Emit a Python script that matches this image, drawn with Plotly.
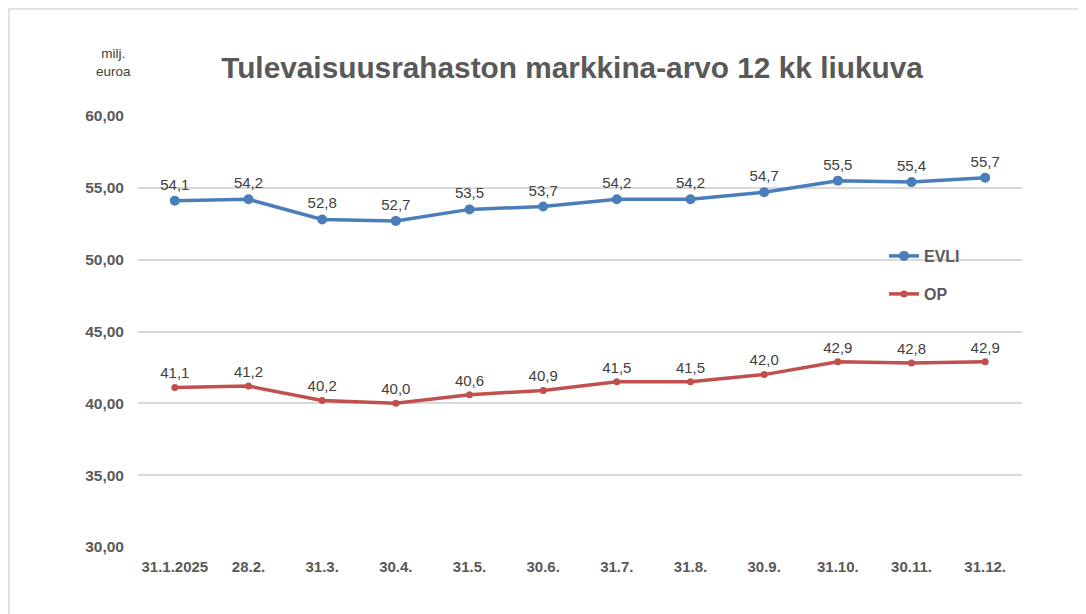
import plotly.graph_objects as go

categories = ["31.1.2025", "28.2.", "31.3.", "30.4.", "31.5.", "30.6.", "31.7.",
              "31.8.", "30.9.", "31.10.", "30.11.", "31.12."]
evli = [54.1, 54.2, 52.8, 52.7, 53.5, 53.7, 54.2, 54.2, 54.7, 55.5, 55.4, 55.7]
op = [41.1, 41.2, 40.2, 40.0, 40.6, 40.9, 41.5, 41.5, 42.0, 42.9, 42.8, 42.9]
y_ticks = [30, 35, 40, 45, 50, 55, 60]

OFF = 8  # page body margin
W, H = 1086 - OFF, 614 - OFF
# target pixel positions in the window
L_PX, R_PX, T_PX, B_PX = 138, 1022, 116, 547
ML, MR, MT, MB = L_PX - OFF, 1086 - R_PX, T_PX - OFF, 614 - B_PX
PW, PH = W - ML - MR, H - MT - MB


def px_x(x):
    return (x - L_PX) / PW


def px_y(y):
    return (B_PX - y) / PH


FONT = "Liberation Sans, Arial, sans-serif"
GRAY = "#595959"

fig = go.Figure()
fig.add_trace(go.Scatter(
    x=categories, y=evli, name="EVLI", mode="lines+markers+text",
    line=dict(color="#4A7EBB", width=3.5), marker=dict(size=10, color="#4A7EBB"),
    text=[f"{v:.1f}".replace(".", ",") for v in evli], textposition="top center",
    textfont=dict(family=FONT, size=15, color="#404040"), legend="legend",
))
fig.add_trace(go.Scatter(
    x=categories, y=op, name="OP", mode="lines+markers+text",
    line=dict(color="#C0504D", width=3.5), marker=dict(size=7, color="#C0504D"),
    text=[f"{v:.1f}".replace(".", ",") for v in op], textposition="top center",
    textfont=dict(family=FONT, size=15, color="#404040"), legend="legend2",
))

legend_common = dict(
    xanchor="left", yanchor="middle", bgcolor="rgba(0,0,0,0)",
    font=dict(family=FONT, size=16, color=GRAY, weight="bold"),
    itemwidth=30,
)

fig.update_layout(
    width=W, height=H,
    margin=dict(l=ML, r=MR, t=MT, b=MB),
    paper_bgcolor="white", plot_bgcolor="white",
    separators=",.",
    title=dict(
        text="<b>Tulevaisuusrahaston markkina-arvo 12 kk liukuva</b>",
        x=px_x(572), xref="paper", xanchor="center",
        y=1 - (68 - OFF) / H, yref="container", yanchor="middle",
        font=dict(family=FONT, size=29.8, color=GRAY),
    ),
    xaxis=dict(
        type="category", range=[-0.5, 11.5], showgrid=False, zeroline=False,
        showline=False, ticks="", ticklabelstandoff=9,
        tickfont=dict(family=FONT, size=15, color=GRAY, weight="bold"),
    ),
    yaxis=dict(
        range=[30, 60], tickvals=y_ticks, tickformat=".2f",
        showgrid=True, gridcolor="#D9D9D9", gridwidth=1.5, zeroline=False,
        showline=False, ticks="", ticklabelstandoff=13,
        tickfont=dict(family=FONT, size=15.5, color=GRAY, weight="bold"),
    ),
    legend=dict(x=px_x(884), y=px_y(256), **legend_common),
    legend2=dict(x=px_x(884), y=px_y(294), **legend_common),
    showlegend=True,
    annotations=[dict(
        text="milj.<br>euroa", x=px_x(113), y=px_y(63), xref="paper", yref="paper",
        xanchor="center", yanchor="middle", showarrow=False,
        font=dict(family=FONT, size=13.5, color="#404040"),
    )],
    shapes=[dict(
        type="rect", xref="paper", yref="paper",
        x0=px_x(9), x1=px_x(1100), y0=px_y(640), y1=px_y(9),
        line=dict(color="#D9D9D9", width=1.5), fillcolor="rgba(0,0,0,0)", layer="below",
    )],
)

fig.write_html("out.html")
